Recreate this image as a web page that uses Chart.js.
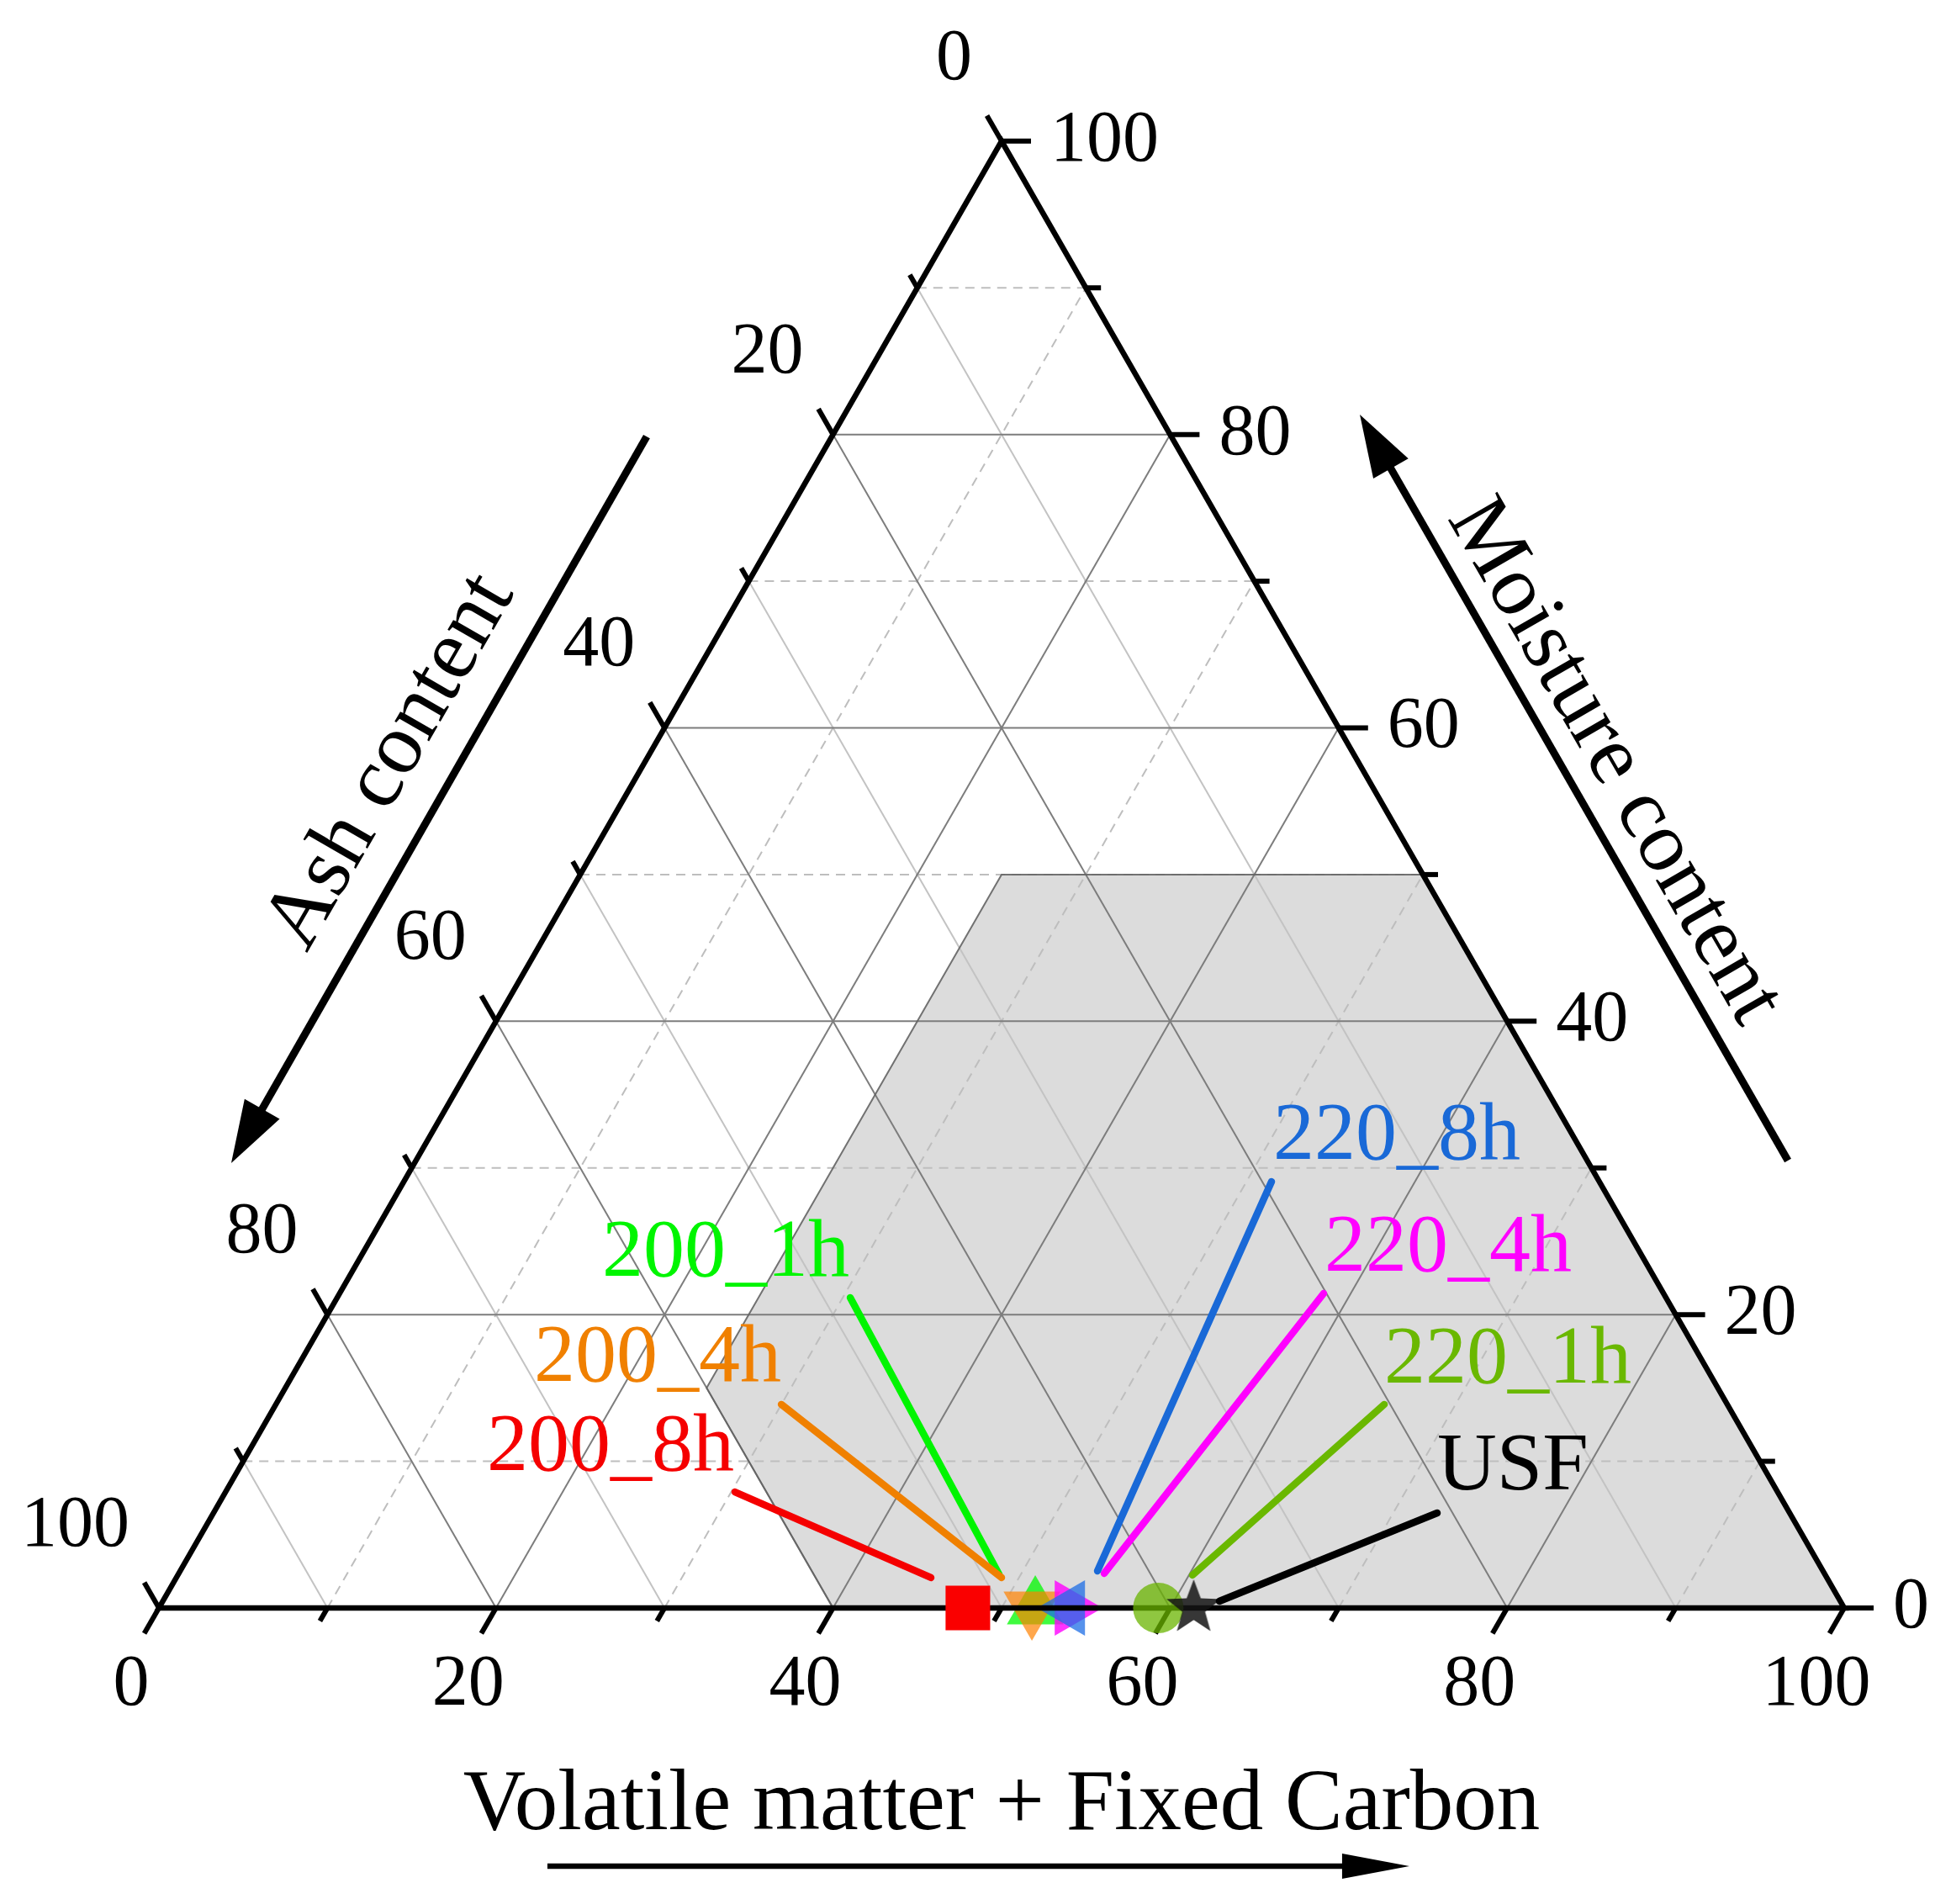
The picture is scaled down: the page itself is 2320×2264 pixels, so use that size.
<!DOCTYPE html>
<html lang="en">
<head>
  <meta charset="UTF-8">
  <title>Proximate analysis – ternary diagram</title>
  <!-- Chart.js Library -->
  <script src="https://cdn.jsdelivr.net/npm/chart.js"></script>
  <style>
    html, body { margin: 0; padding: 0; background: #fff; overflow: hidden; }
    #wrap { width: 2320px; height: 2264px; }
    canvas { display: block; }
  </style>
</head>
<body>
<div id="wrap"><canvas id="ternary" width="2320" height="2264"></canvas></div>

<script>
  // ---- data, all in % ----
  const samples  = ['USF', '200_1h', '200_4h', '200_8h', '220_1h', '220_4h', '220_8h'];
  const vmFc     = [61.4, 52.0, 51.8, 48.0, 59.3, 54.1, 54.0];   // volatile matter + fixed carbon
  const ash      = [38.6, 48.0, 48.2, 52.0, 40.7, 45.9, 46.0];
  const moisture = [0, 0, 0, 0, 0, 0, 0];
  const tickValues = [0, 20, 40, 60, 80, 100];

  // shaded (Tanner) region: moisture <= 50, ash <= 60, combustibles >= 25
  const regionVmFc     = [25, 50, 100, 40, 25];
  const regionMoisture = [50, 50, 0, 0, 15];

  const H = Math.sqrt(3) / 2;

  // ternary (vm+fc, moisture, ash) -> cartesian units of the chart
  function toXY(a, m, s) {
    const t = a + m + s;
    a = 100 * a / t; m = 100 * m / t;
    return { x: a + m / 2, y: m * H };
  }

  // marker / label look for each sample
  const look = {
    'USF':    { color: '#000000',         fill: 'rgba(20,20,20,0.85)',  shape: 'star',     r: 34, rot: 0,   order: 2 },
    '200_1h': { color: 'rgb(0,245,0)',    fill: 'rgba(0,250,0,0.75)',   shape: 'triangle', r: 39, rot: 0,   order: 8 },
    '200_4h': { color: 'rgb(240,128,0)',  fill: 'rgba(255,130,0,0.7)',  shape: 'triangle', r: 39, rot: 180, order: 7 },
    '200_8h': { color: 'rgb(245,0,0)',    fill: 'rgb(250,0,0)',         shape: 'rect',     r: 37.5, rot: 0, order: 1 },
    '220_1h': { color: 'rgb(106,184,0)',  fill: 'rgba(106,180,0,0.75)', shape: 'circle',   r: 30, rot: 0,   order: 3 },
    '220_4h': { color: 'rgb(255,0,255)',  fill: 'rgba(255,0,255,0.8)',  shape: 'triangle', r: 38, rot: 90,  order: 6 },
    '220_8h': { color: 'rgb(25,105,215)', fill: 'rgba(30,110,230,0.75)', shape: 'triangle', r: 38, rot: 270, order: 5 }
  };

  // callouts (chart units): label anchor, leader line start/end, text alignment
  const callouts = {
    '200_1h': { tx: 40.97, ty: 19.61, align: 'right', x0: 41.02, y0: 18.32, x1: 49.85, y1: 1.99 },
    '200_4h': { tx: 36.93, ty: 13.41, align: 'right', x0: 36.93, y0: 12.02, x1: 50.00, y1: 1.79 },
    '200_8h': { tx: 34.13, ty: 8.14,  align: 'right', x0: 34.18, y0: 6.85,  x1: 45.81, y1: 1.79 },
    '220_8h': { tx: 66.12, ty: 26.51, align: 'left',  x0: 66.02, y0: 25.17, x1: 55.69, y1: 2.18 },
    '220_4h': { tx: 69.16, ty: 19.91, align: 'left',  x0: 69.11, y0: 18.57, x1: 56.09, y1: 2.04 },
    '220_1h': { tx: 72.71, ty: 13.31, align: 'left',  x0: 72.71, y0: 12.02, x1: 61.33, y1: 1.94 },
    'USF':    { tx: 75.85, ty: 7.00,  align: 'left',  x0: 75.85, y0: 5.61,  x1: 62.92, y1: 0.40 }
  };

  const FONT = "'Liberation Serif', 'DejaVu Serif', serif";

  // filled five point star for the USF marker
  function starImage(R, color) {
    const c = document.createElement('canvas');
    const size = Math.ceil(2 * R + 4);
    c.width = c.height = size;
    const g = c.getContext('2d');
    g.translate(size / 2, size / 2);
    g.beginPath();
    for (let i = 0; i < 10; i++) {
      const rr = i % 2 === 0 ? R : R * 0.42;
      const ang = -Math.PI / 2 + i * Math.PI / 5;
      g.lineTo(rr * Math.cos(ang), rr * Math.sin(ang));
    }
    g.closePath();
    g.fillStyle = color;
    g.fill();
    return c;
  }

  const datasets = samples.map((name, i) => {
    const st = look[name];
    const p = toXY(vmFc[i], moisture[i], ash[i]);
    return {
      label: name,
      data: [p],
      order: st.order,
      pointStyle: st.shape === 'star' ? starImage(st.r, st.fill) : st.shape,
      pointRadius: st.r,
      pointRotation: st.rot,
      pointBackgroundColor: st.fill,
      pointBorderWidth: 0,
      pointHoverRadius: st.r
    };
  });

  // pixel helper: (vm+fc, moisture) -> canvas px via the chart scales
  function P(chart, a, m) {
    return [chart.scales.x.getPixelForValue(a + m / 2), chart.scales.y.getPixelForValue(m * H)];
  }
  function Q(chart, x, y) {
    return [chart.scales.x.getPixelForValue(x), chart.scales.y.getPixelForValue(y)];
  }

  function line(ctx, p0, p1) {
    ctx.beginPath();
    ctx.moveTo(p0[0], p0[1]);
    ctx.lineTo(p1[0], p1[1]);
    ctx.stroke();
  }

  function arrow(ctx, tail, tip, headLen, headHalf, lw) {
    const dx = tip[0] - tail[0], dy = tip[1] - tail[1];
    const L = Math.hypot(dx, dy), ux = dx / L, uy = dy / L;
    const bx = tip[0] - ux * headLen, by = tip[1] - uy * headLen;
    ctx.lineWidth = lw;
    ctx.lineCap = 'butt';
    line(ctx, tail, [bx + ux * 2, by + uy * 2]);
    ctx.beginPath();
    ctx.moveTo(tip[0], tip[1]);
    ctx.lineTo(bx - uy * headHalf, by + ux * headHalf);
    ctx.lineTo(bx + uy * headHalf, by - ux * headHalf);
    ctx.closePath();
    ctx.fill();
  }

  // shading + grid, under the markers
  function drawBackground(chart) {
    const ctx = chart.ctx;
    ctx.save();

    // Tanner region
    ctx.beginPath();
    regionVmFc.forEach((a, i) => {
      const p = P(chart, a, regionMoisture[i]);
      if (i === 0) ctx.moveTo(p[0], p[1]); else ctx.lineTo(p[0], p[1]);
    });
    ctx.closePath();
    ctx.fillStyle = '#dcdcdc';
    ctx.fill();

    // grid lines
    ctx.lineWidth = 2;
    for (const major of [false, true]) {
      for (let v = 10; v <= 90; v += 10) {
        if ((v % 20 === 0) !== major) continue;
        // constant moisture & constant vm+fc
        ctx.strokeStyle = major ? 'rgb(125,125,125)' : 'rgb(190,190,190)';
        ctx.setLineDash(major ? [] : [11, 8]);
        line(ctx, P(chart, 0, v), P(chart, 100 - v, v));
        line(ctx, P(chart, v, 0), P(chart, v, 100 - v));
        // constant ash
        ctx.strokeStyle = major ? 'rgb(125,125,125)' : 'rgb(195,195,195)';
        ctx.setLineDash([]);
        line(ctx, P(chart, 100 - v, 0), P(chart, 0, 100 - v));
      }
    }

    // region outline
    ctx.setLineDash([]);
    ctx.strokeStyle = 'rgba(100,100,100,0.9)';
    ctx.lineWidth = 2;
    ctx.beginPath();
    regionVmFc.forEach((a, i) => {
      const p = P(chart, a, regionMoisture[i]);
      if (i === 0) ctx.moveTo(p[0], p[1]); else ctx.lineTo(p[0], p[1]);
    });
    ctx.closePath();
    ctx.stroke();
    ctx.restore();
  }

  // triangle frame, ticks, tick labels, axis titles and arrows
  function drawFrame(chart) {
    const ctx = chart.ctx;
    const A = P(chart, 0, 0), B = P(chart, 100, 0), C = P(chart, 0, 100);
    ctx.save();
    ctx.strokeStyle = '#000';
    ctx.fillStyle = '#000';
    ctx.lineWidth = 6.5;
    ctx.lineJoin = 'miter';
    ctx.beginPath();
    ctx.moveTo(A[0], A[1]); ctx.lineTo(B[0], B[1]); ctx.lineTo(C[0], C[1]); ctx.closePath();
    ctx.stroke();

    const unit = (p, q) => { const L = Math.hypot(q[0] - p[0], q[1] - p[1]); return [(q[0] - p[0]) / L, (q[1] - p[1]) / L]; };
    const dBottom = unit(C, A);   // down-left
    const dLeft = unit(B, C);     // up-left
    const dRight = [1, 0];

    ctx.lineCap = 'butt';
    ctx.lineWidth = 6;
    for (let v = 0; v <= 100; v += 10) {
      const len = v % 20 === 0 ? 35 : 18;
      const pb = P(chart, v, 0);
      line(ctx, pb, [pb[0] + dBottom[0] * len, pb[1] + dBottom[1] * len]);
      const pr = P(chart, 100 - v, v);
      line(ctx, pr, [pr[0] + dRight[0] * len, pr[1] + dRight[1] * len]);
      const pl = P(chart, 0, 100 - v);
      line(ctx, pl, [pl[0] + dLeft[0] * len, pl[1] + dLeft[1] * len]);
    }

    // tick labels
    ctx.font = '86px ' + FONT;
    ctx.textBaseline = 'alphabetic';
    tickValues.forEach(v => {
      const pb = P(chart, v, 0);
      ctx.textAlign = 'center';
      ctx.fillText(String(v), pb[0] - 33, pb[1] + 115);
      const pr = P(chart, 100 - v, v);
      ctx.textAlign = 'left';
      ctx.fillText(String(v), pr[0] + 58, pr[1] + 23);
      const pl = P(chart, 0, 100 - v);
      ctx.textAlign = 'right';
      ctx.fillText(String(v), pl[0] - 35, pl[1] - 74);
    });

    // axis titles
    ctx.font = '103px ' + FONT;
    ctx.textAlign = 'center';
    const tb = Q(chart, 50.0, -13.06);
    ctx.fillText('Volatile matter + Fixed Carbon', tb[0], tb[1]);

    ctx.textBaseline = 'middle';
    const ta = Q(chart, 13.77, 49.95);
    ctx.save();
    ctx.translate(ta[0], ta[1]);
    ctx.rotate(-Math.PI / 3);
    ctx.fillText('Ash content', 0, 0);
    ctx.restore();

    const tm = Q(chart, 86.33, 49.95);
    ctx.save();
    ctx.translate(tm[0], tm[1]);
    ctx.rotate(Math.PI / 3);
    ctx.fillText('Moisture content', 0, 0);
    ctx.restore();

    // direction arrows
    arrow(ctx, Q(chart, 28.94, 69.16), Q(chart, 4.29, 26.27), 74, 24, 9);
    arrow(ctx, Q(chart, 96.66, 26.42), Q(chart, 71.26, 70.46), 74, 24, 9);
    arrow(ctx, Q(chart, 23.05, -15.24), Q(chart, 74.20, -15.24), 80, 15, 6.5);
    ctx.restore();
  }

  // sample labels with leader lines
  function drawCallouts(chart) {
    const ctx = chart.ctx;
    ctx.save();
    ctx.font = '98px ' + FONT;
    ctx.textBaseline = 'alphabetic';
    ctx.lineCap = 'round';
    ctx.lineWidth = 8.5;
    samples.forEach(name => {
      const c = callouts[name];
      const col = look[name].color;
      ctx.strokeStyle = col;
      ctx.fillStyle = col;
      line(ctx, Q(chart, c.x0, c.y0), Q(chart, c.x1, c.y1));
      const t = Q(chart, c.tx, c.ty);
      ctx.textAlign = c.align;
      ctx.fillText(name, t[0], t[1]);
    });
    ctx.restore();
  }

  const ternaryPlugin = {
    id: 'ternaryPlugin',
    beforeDraw(chart) {
      const ctx = chart.ctx;
      ctx.save();
      ctx.fillStyle = '#fff';
      ctx.fillRect(0, 0, chart.width, chart.height);
      ctx.restore();
    },
    beforeDatasetsDraw(chart) {
      drawBackground(chart);
      chart.$frameDone = false;
    },
    beforeDatasetDraw(chart, args) {
      // frame goes above the triangles but below circle, star and square
      if (!chart.$frameDone && args.meta.order < 4) {
        drawFrame(chart);
        chart.$frameDone = true;
      }
    },
    afterDatasetsDraw(chart) {
      if (!chart.$frameDone) { drawFrame(chart); chart.$frameDone = true; }
      drawCallouts(chart);
    }
  };

  // scale ranges: triangle side spans 2004 px, height 1744 px
  const PX_X = 20.04, PX_Y = 20.14;
  const X_MIN = -189 / PX_X, X_MAX = X_MIN + 2320 / PX_X;
  const Y_MAX = 1912 / PX_Y, Y_MIN = Y_MAX - 2264 / PX_Y;

  new Chart(document.getElementById('ternary').getContext('2d'), {
    type: 'scatter',
    data: { datasets: datasets },
    options: {
      responsive: false,
      animation: false,
      devicePixelRatio: 1,
      events: [],
      layout: { padding: 0, autoPadding: false },
      plugins: { legend: { display: false }, tooltip: { enabled: false } },
      scales: {
        x: { type: 'linear', min: X_MIN, max: X_MAX, display: false },
        y: { type: 'linear', min: Y_MIN, max: Y_MAX, display: false }
      }
    },
    plugins: [ternaryPlugin]
  });
</script>
</body>
</html>
